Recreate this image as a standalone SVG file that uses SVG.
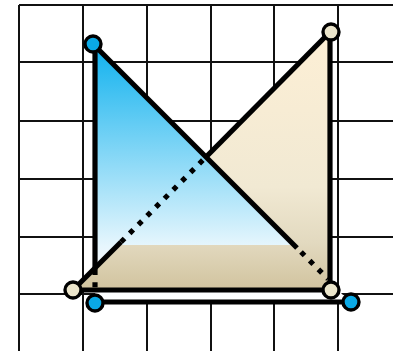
<svg xmlns="http://www.w3.org/2000/svg" width="393" height="351" viewBox="0 0 393 351">
  <style>
    .grid { stroke: #111; stroke-width: 2; fill: none; }
    .edge { stroke: #000; stroke-width: 5.2; fill: none; stroke-linecap: butt; }
    .hidden { stroke: #000; stroke-width: 5.2; fill: none; stroke-dasharray: 5 7.3; }
    .pt { stroke: #000; stroke-width: 3.4; }
    .pt-blue { fill: #0aa9e6; }
    .pt-beige { fill: #ebe5cb; }
  </style>
  <defs>
    <linearGradient id="blueGrad" gradientUnits="userSpaceOnUse" x1="0" y1="44" x2="0" y2="303">
      <stop offset="0" stop-color="#0eb1ee"/>
      <stop offset="0.78" stop-color="#e6f6fd"/>
      <stop offset="0.86" stop-color="#f6f8fc"/>
      <stop offset="1" stop-color="#ffffff"/>
    </linearGradient>
    <linearGradient id="beigeGrad" gradientUnits="userSpaceOnUse" x1="0" y1="32" x2="0" y2="290">
      <stop offset="0" stop-color="#fdefd5"/>
      <stop offset="0.6" stop-color="#f1e9d3"/>
      <stop offset="0.82" stop-color="#e2d9bf"/>
      <stop offset="1" stop-color="#d1c39e"/>
    </linearGradient>
  </defs>

  <g id="grid">
    <line class="grid" x1="19" y1="5" x2="393" y2="5"/>
    <line class="grid" x1="19" y1="62" x2="393" y2="62"/>
    <line class="grid" x1="19" y1="121" x2="393" y2="121"/>
    <line class="grid" x1="19" y1="179" x2="393" y2="179"/>
    <line class="grid" x1="19" y1="237" x2="393" y2="237"/>
    <line class="grid" x1="19" y1="294" x2="393" y2="294"/>
    <line class="grid" x1="19" y1="5" x2="19" y2="351"/>
    <line class="grid" x1="83" y1="5" x2="83" y2="351"/>
    <line class="grid" x1="147" y1="5" x2="147" y2="351"/>
    <line class="grid" x1="211" y1="5" x2="211" y2="351"/>
    <line class="grid" x1="274" y1="5" x2="274" y2="351"/>
    <line class="grid" x1="338" y1="5" x2="338" y2="351"/>
  </g>

  <g id="blue-triangle-back">
    <polygon points="95,44 95,303 351,303 330,282" fill="url(#blueGrad)"/>
  </g>
  <g id="beige-triangle">
    <polygon points="73,290 330,32 330,290" fill="url(#beigeGrad)"/>
  </g>
  <g id="blue-triangle-front">
    <polygon points="95,44 95,245 296,245" fill="url(#blueGrad)"/>
  </g>

  <g id="connectors">
    <line class="edge" x1="330" y1="32" x2="330" y2="292"/>
    <line class="edge" x1="73" y1="290" x2="332" y2="290"/>
    <line class="edge" x1="73" y1="290" x2="121" y2="242"/>
    <line class="hidden" x1="121" y1="242" x2="206" y2="157"/>
    <line class="edge" x1="206" y1="157" x2="330" y2="32"/>
    <line class="edge" x1="95" y1="44" x2="95" y2="270"/>
    <line class="hidden" x1="95" y1="270" x2="95" y2="290"/>
    <line class="edge" x1="95" y1="302" x2="351" y2="302"/>
    <line class="edge" x1="93" y1="44" x2="297" y2="248"/>
    <line class="hidden" x1="301" y1="252" x2="328" y2="279"/>
  </g>

  <g id="points">
    <circle class="pt pt-blue" cx="93" cy="44" r="8"/>
    <circle class="pt pt-blue" cx="95" cy="303" r="8"/>
    <circle class="pt pt-blue" cx="351" cy="302" r="8"/>
    <circle class="pt pt-beige" cx="73" cy="290" r="8"/>
    <circle class="pt pt-beige" cx="331" cy="32" r="8"/>
    <circle class="pt pt-beige" cx="331" cy="290" r="8"/>
  </g>
</svg>
